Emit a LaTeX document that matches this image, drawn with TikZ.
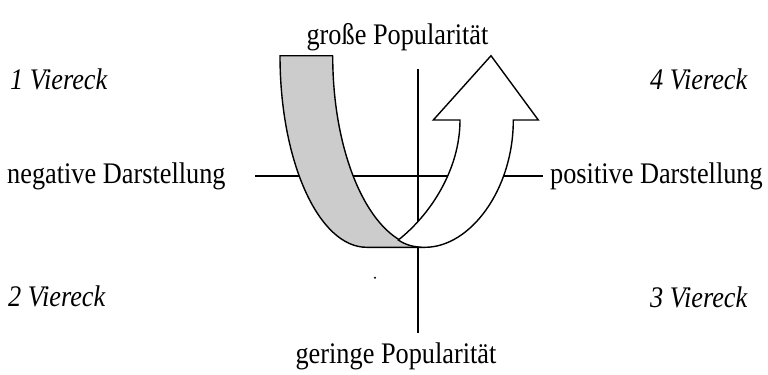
\documentclass[tikz,border=0pt]{standalone}
\usepackage{fontspec}
\setmainfont{Liberation Serif}
\usepackage{xcolor}
\definecolor{colBand}{RGB}{204,204,204}
\tikzset{
  axis/.style  = {draw=black, line width=1.4bp},
  lbl/.style   = {inner sep=0pt, xscale=0.88,
                  font=\fontsize{30}{36}\selectfont},
  quad/.style  = {inner sep=0pt, xscale=0.88,
                  font=\fontsize{30}{36}\selectfont\itshape},
  band/.style  = {draw=black, line width=1.4bp, fill=colBand, line join=round},
  turn/.style  = {draw=black, line width=1.4bp, fill=white, line join=miter},
}
\begin{document}
\begin{tikzpicture}[x=1bp, y=-1bp]
\useasboundingbox (0,0) rectangle (768,374);

%% Axis labels
\node[lbl, anchor=base]      (top) at (397.5,44) {große Popularität};
\node[lbl, anchor=base]      (bot) at (396,363)  {geringe Popularität};
\node[lbl, anchor=base west] (neg) at (7,183)    {negative Darstellung};
\node[lbl, anchor=base west] (pos) at (550,183)  {positive Darstellung};

%% Quadrants
\node[quad, anchor=base west] (q1) at (10,89)  {1 Viereck};
\node[quad, anchor=base west] (q4) at (650,89) {4 Viereck};
\node[quad, anchor=base west] (q2) at (8,306)  {2 Viereck};
\node[quad, anchor=base west] (q3) at (650,307) {3 Viereck};

%% Axes
\coordinate (xl) at (255,176);
\coordinate (xr) at (543,176);
\coordinate (yt) at (418,69);
\coordinate (yb) at (418,333);
\draw[axis] (xl) -- (xr);
\draw[axis] (yt) -- (yb);

%% Gray band (left side of the U-turn)
\draw[band] (280,55.7) .. controls (280,161.5) and (318.8,247.3) .. (366.7,247.3)
  -- (425,247.3) .. controls (374,247.3) and (332.7,161.5) .. (332.7,55.7) -- cycle;

%% White arrow (right side of the U-turn)
\draw[turn] (398.3,240) .. controls (430,215) and (460,170) .. (460,120)
  -- (433.3,120) -- (491,55.7) -- (538.3,120) -- (513.3,120)
  .. controls (513.3,190) and (470,247.3) .. (425,247.3)
  .. controls (413,247.3) and (405,244.5) .. (398.3,240) -- cycle;

\fill (375,277.7) circle (1.1);

\end{tikzpicture}
\end{document}
